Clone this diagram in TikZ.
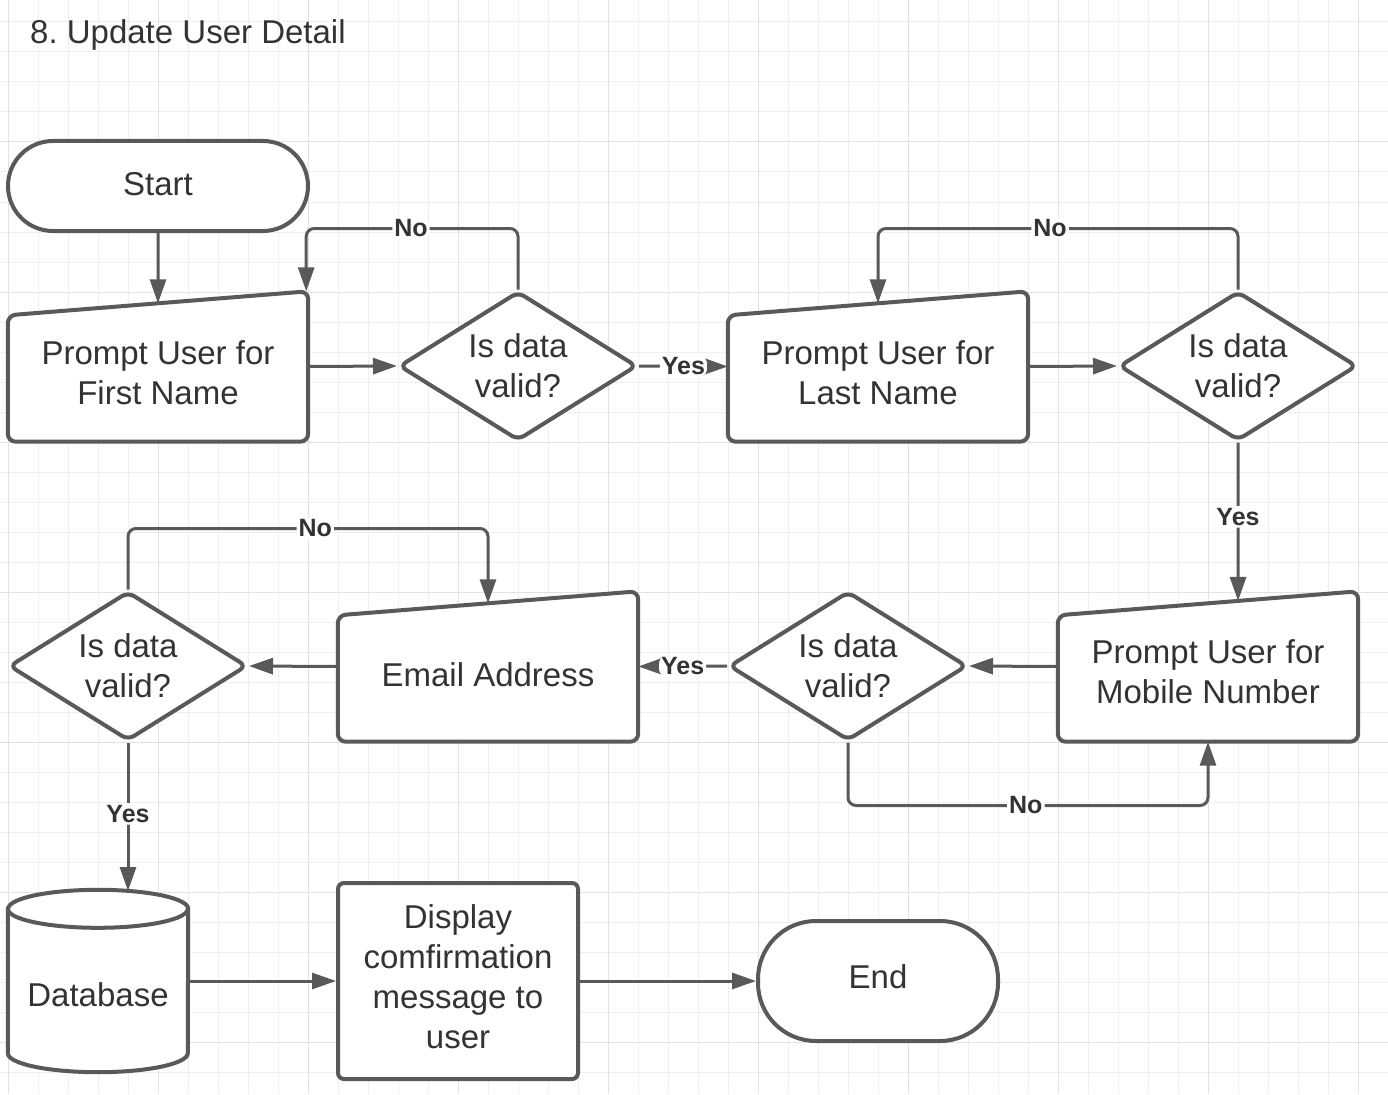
\documentclass[tikz,border=0pt]{standalone}
\usepackage{fontspec}
\setmainfont{Liberation Sans}
\usetikzlibrary{arrows.meta,shapes.geometric,calc}
\definecolor{ln}{HTML}{595959}
\definecolor{tx}{HTML}{333333}
\definecolor{gmin}{HTML}{EFEFEF}
\definecolor{gmaj}{HTML}{E2E2E2}
\frenchspacing
\begin{document}
\begin{tikzpicture}[x=1pt,y=-1pt,
  shp/.style={draw=ln, line width=4pt, fill=white},
  inbox/.style={rectangle, inner sep=0pt, minimum width=300pt, minimum height=150pt},
  dia/.style={diamond, draw=ln, line width=4pt, fill=white, rounded corners=7pt, inner sep=0pt,
    minimum width=238pt, minimum height=149pt, aspect=1.6, align=center, text=tx,
    font=\fontsize{33}{40}\selectfont},
  txt/.style={font=\fontsize{33}{40}\selectfont, text=tx, align=center, inner sep=0pt},
  lab/.style={font=\bfseries\fontsize{25}{30}\selectfont, text=tx, fill=white, inner sep=2pt},
  conn/.style={draw=ln, line width=3pt, -{Triangle[length=24pt,width=16pt]}, rounded corners=8pt}]
\useasboundingbox (0,0) rectangle (1388,1094);
\fill[white] (0,0) rectangle (1388,1094);
% grid
\foreach \x in {8,38,...,1388} \draw[gmin, line width=1pt] (\x,0) -- (\x,1094);
\foreach \y in {22,52,...,1094} \draw[gmin, line width=1pt] (0,\y) -- (1388,\y);
\foreach \x in {8,158,...,1388} \draw[gmaj, line width=1pt] (\x,0) -- (\x,1094);
\foreach \y in {142,292,...,1094} \draw[gmaj, line width=1pt] (0,\y) -- (1388,\y);
% title
\node[anchor=base west, txt] (title) at (30,44) {8. Update User Detail};
% terminals
\node[shp, rounded corners=45pt, minimum width=300pt, minimum height=90pt, inner sep=0pt] (start) at (158,186) {};
\node[shp, rounded corners=58pt, minimum width=240pt, minimum height=120pt, inner sep=0pt] (endn) at (878,981) {};
\node[shp, rounded corners=6pt, minimum width=240pt, minimum height=196pt, inner sep=0pt] (disp) at (458,981) {};
% manual input boxes
\node[inbox] (p1) at (158,366.5) {};
\node[inbox] (p2) at (878,366.5) {};
\node[inbox] (mob) at (1208,666.5) {};
\node[inbox] (em) at (488,666.5) {};
\foreach \b in {p1,p2,mob,em}
  \draw[shp, rounded corners=8pt] (\b.south west) -- ([yshift=-24pt]\b.north west) -- (\b.north east) -- (\b.south east) -- cycle;
\coordinate (p1in) at ($(p1.north west)!0.5!(p1.north east)+(0,12)$);
\coordinate (p2in) at ($(p2.north west)!0.5!(p2.north east)+(0,12)$);
\coordinate (mobin) at ($(mob.north west)!0.6!(mob.north east)+(0,9.6)$);
\coordinate (emin) at ($(em.north west)!0.5!(em.north east)+(0,12)$);
% database
\node[inner sep=0pt, minimum width=180pt, minimum height=182pt] (db) at (98,981) {};
\draw[shp] ($(db.north west)+(0,19)$) -- ($(db.south west)+(0,-19)$)
  arc[start angle=180, end angle=360, x radius=90pt, y radius=19pt]
  -- ($(db.north east)+(0,19)$)
  arc[start angle=0, end angle=180, x radius=90pt, y radius=19pt] -- cycle;
\draw[draw=ln, line width=4pt] ($(db.north west)+(0,19)$) arc[start angle=180, end angle=360, x radius=90pt, y radius=19pt];
\coordinate (dbin) at (128,891);
% diamonds
\node[dia] (d1) at (518,366) {Is data\\valid?};
\node[dia] (d2) at (1238,366) {Is data\\valid?};
\node[dia] (d3) at (848,666) {Is data\\valid?};
\node[dia] (d4) at (128,666) {Is data\\valid?};
% texts
\node[txt] (startt) at (158,184) {Start};
\node[txt] (p1t) at (158,373) {Prompt User for\\First Name};
\node[txt] (p2t) at (878,373) {Prompt User for\\Last Name};
\node[txt] (mobt) at (1208,672) {Prompt User for\\Mobile Number};
\node[txt] (emt) at (488,675) {Email Address};
\node[txt] (dbt) at (98,995) {Database};
\node[txt] (dispt) at (458,977) {Display\\comfirmation\\message to\\user};
\node[txt] (endt) at (878,977) {End};
% connectors
\draw[conn] (start.south) -- (p1in);
\draw[conn] (p1.east) -- (d1.west);
\draw[conn] (d1.north) -- ++(0,-61) -| node[lab,pos=0.2525]{No} ([xshift=-2pt]p1.north east);
\draw[conn] (d1.east) -- node[lab]{Yes} (p2.west);
\draw[conn] (p2.east) -- (d2.west);
\draw[conn] (d2.north) -- ++(0,-61) -| node[lab,pos=0.261]{No} (p2in);
\draw[conn] (d2.south) -- node[lab,pos=0.47]{Yes} (mobin);
\draw[conn] (mob.west) -- (d3.east);
\draw[conn] (d3.south) -- ++(0,63) -| node[lab,pos=0.247]{No} (mob.south);
\draw[conn] (d3.west) -- node[lab]{Yes} (em.east);
\draw[conn] (em.west) -- (d4.east);
\draw[conn] (d4.north) -- ++(0,-61) -| node[lab,pos=0.26]{No} (emin);
\draw[conn] (d4.south) -- node[lab,pos=0.48]{Yes} (dbin);
\draw[conn] (db.east) -- (disp.west);
\draw[conn] (disp.east) -- (endn.west);
\end{tikzpicture}
\end{document}
